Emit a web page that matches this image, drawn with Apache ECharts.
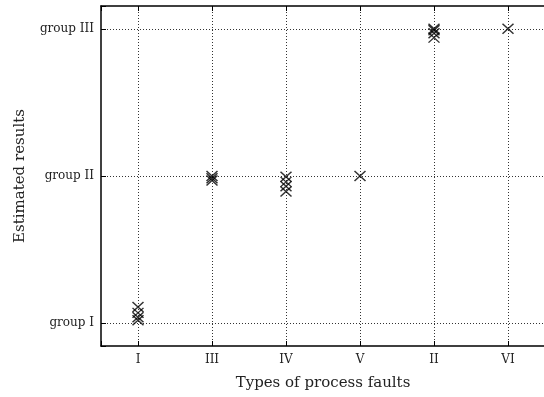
<!DOCTYPE html>
<html>
<head>
<meta charset="utf-8">
<script src="https://cdn.jsdelivr.net/npm/echarts@6/dist/echarts.min.js"></script>
<style>
  html, body { margin: 0; padding: 0; background: #fff; }
  #chart { width: 544px; height: 397px; }
</style>
</head>
<body>
<div id="chart"></div>
<script>
// fault types along the x axis (in plotted order)
const faultTypes = ['I', 'III', 'IV', 'V', 'II', 'VI']
// estimated group labels on the y axis
const groupLabels = ['group I', 'group II', 'group III']

// estimated results for each fault type (1 = group I, 2 = group II, 3 = group III)
const estI = [1.11, 1.07, 1.04, 1.02]
const estIII = [2.0, 1.985, 1.97]
const estIV = [1.995, 1.96, 1.93, 1.895]
const estV = [2.0]
const estII = [3.0, 2.99, 2.97, 2.94]
const estVI = [3.0]

const estimates = [estI, estIII, estIV, estV, estII, estVI]

const points = []
estimates.forEach((list, i) => {
  list.forEach(v => points.push([i + 1, v]))
})

const font = 'DejaVu Serif'
const chart = echarts.init(document.getElementById('chart'))

const xLabel = v => {
  const i = Math.round(v) - 1
  return Math.abs(v - Math.round(v)) < 1e-6 && faultTypes[i] ? faultTypes[i] : ''
}
const yLabel = v => {
  const i = Math.round(v) - 1
  return Math.abs(v - Math.round(v)) < 1e-6 && groupLabels[i] ? groupLabels[i] : ''
}

const gridLine = {
  show: true,
  showMinLine: false,
  showMaxLine: false,
  lineStyle: { color: '#333', type: [1, 2], width: 1 }
}

chart.setOption({
  animation: false,
  grid: { left: 101, top: 6, width: 444, height: 340, outerBoundsMode: 'none', containLabel: false },
  xAxis: [
    {
      type: 'value',
      min: 0.5,
      max: 6.5,
      minInterval: 1,
      maxInterval: 1,
      position: 'bottom',
      name: 'Types of process faults',
      nameLocation: 'middle',
      nameGap: 30,
      nameTextStyle: { fontFamily: font, fontSize: 15, color: '#222' },
      axisLine: { show: true, lineStyle: { color: '#000', width: 1.5 } },
      axisTick: { show: true, inside: true, length: 5, lineStyle: { color: '#000' } },
      axisLabel: { formatter: xLabel, fontFamily: font, fontSize: 12, color: '#222', margin: 8 },
      splitLine: gridLine
    },
    {
      type: 'value',
      min: 0.5,
      max: 6.5,
      minInterval: 1,
      maxInterval: 1,
      position: 'top',
      axisLine: { show: true, lineStyle: { color: '#000', width: 1.5 } },
      axisTick: { show: true, inside: true, length: 5, lineStyle: { color: '#000' } },
      axisLabel: { show: false },
      splitLine: { show: false }
    }
  ],
  yAxis: [
    {
      type: 'value',
      min: 0.845,
      max: 3.155,
      minInterval: 1,
      maxInterval: 1,
      name: 'Estimated results',
      nameLocation: 'middle',
      nameGap: 73,
      nameTextStyle: { fontFamily: font, fontSize: 15, color: '#222' },
      axisLine: { show: true, lineStyle: { color: '#000', width: 1.5 } },
      axisTick: { show: true, inside: true, length: 5, lineStyle: { color: '#000' } },
      axisLabel: { formatter: yLabel, fontFamily: font, fontSize: 12, color: '#222', margin: 7 },
      splitLine: gridLine
    }
  ],
  series: [
    {
      type: 'scatter',
      data: points,
      symbol: 'path://M0,0L10,9M10,0L0,9',
      symbolSize: [11, 10],
      itemStyle: { color: 'none', borderColor: '#000', borderWidth: 1.4 }
    }
  ]
})
</script>
</body>
</html>
